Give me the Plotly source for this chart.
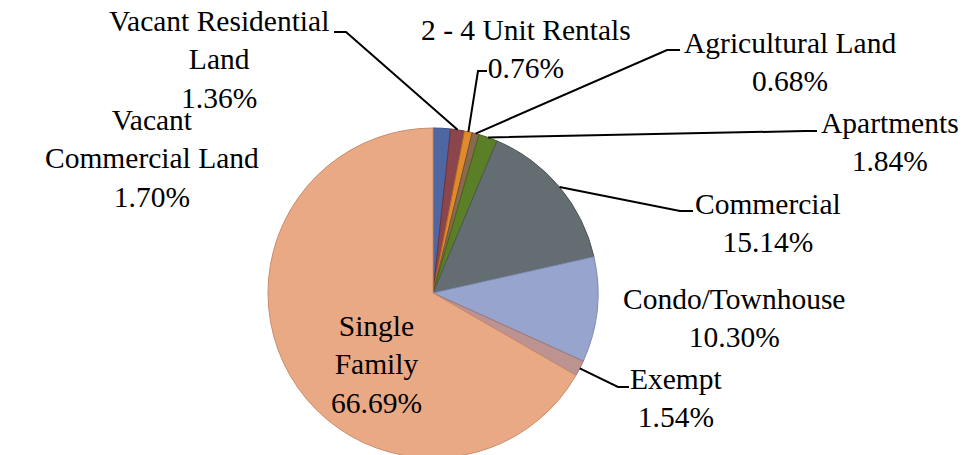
import plotly.graph_objects as go
import math

labels = ["Vacant Commercial Land", "Vacant Residential Land", "2 - 4 Unit Rentals",
          "Agricultural Land", "Apartments", "Commercial", "Condo/Townhouse",
          "Exempt", "Single Family"]
values = [1.70, 1.36, 0.76, 0.68, 1.84, 15.14, 10.30, 1.54, 66.69]
display_names = ["Vacant<br>Commercial Land", "Vacant Residential<br>Land", "2 - 4 Unit Rentals",
                 "Agricultural Land", "Apartments", "Commercial", "Condo/Townhouse",
                 "Exempt", "Single<br>Family"]
colors = ["#4E67A3", "#8B464D", "#E08A2C", "#8A6A4E", "#5B7F27", "#646D72",
          "#97A5CE", "#BC9391", "#EAA985"]
line_colors = ["#3D5289", "#6E3339", "#B86C1E", "#6E523A", "#46651B", "#4E565A",
               "#7C8AB3", "#9E7876", "#C88D6C"]

W, H = 964, 460  # page shows the top 455 px, the pie is slightly cut at the bottom
CX, CY, R = 433, 293, 165

# layout: label centres (px) and leader elbows (px)
label_pos = [(152, 158), (219, 59), (526, 49), (790, 62), (890, 142),
             (768, 223), (734, 318), (676, 398), (376, 364)]
leaders = [None, [(346, 32), (334, 32)], [(478, 71), (487, 71)], [(667, 50), (680, 50)],
           [(805, 131), (817, 131)], [(680, 211), (693, 211)], None,
           [(618, 387), (629, 387)], None]

def px(x, y):
    return x / W, 1 - y / H

fig = go.Figure()
fig.add_trace(go.Pie(
    labels=labels, values=values, sort=False, direction="clockwise", rotation=0,
    marker=dict(colors=colors, line=dict(color=line_colors, width=1)),
    textinfo="none", hoverinfo="label+percent", showlegend=False,
    domain=dict(x=[(CX - R) / W, (CX + R) / W],
                y=[1 - (CY + R) / H, 1 - (CY - R) / H]),
))

total = sum(values)
cum = 0
annotations = []
shapes = []
for i, v in enumerate(values):
    mid = (cum + v / 2) / total * 2 * math.pi
    cum += v
    ex = CX + R * math.sin(mid)
    ey = CY - R * math.cos(mid)
    lx, ly = label_pos[i]
    xp, yp = px(lx, ly)
    annotations.append(dict(
        x=xp, y=yp, xref="paper", yref="paper", xanchor="center", yanchor="middle",
        text=f"{display_names[i]}<br>{v:.2f}%", showarrow=False, align="center",
        font=dict(family="Liberation Serif", size=29.5, color="#000000")))
    if leaders[i]:
        pts = [(ex, ey)] + leaders[i]
        path = "M " + " L ".join(f"{px(a, b)[0]},{px(a, b)[1]}" for a, b in pts)
        shapes.append(dict(type="path", path=path, xref="paper", yref="paper",
                           line=dict(color="#000000", width=2)))

fig.update_layout(
    width=W, height=H, margin=dict(l=0, r=0, t=0, b=0),
    paper_bgcolor="white", plot_bgcolor="white",
    annotations=annotations, shapes=shapes,
)
fig.write_html(
    "out.html",
    config={"displayModeBar": False},
    post_script="document.body.style.margin='0';document.body.style.overflow='hidden';",
)
